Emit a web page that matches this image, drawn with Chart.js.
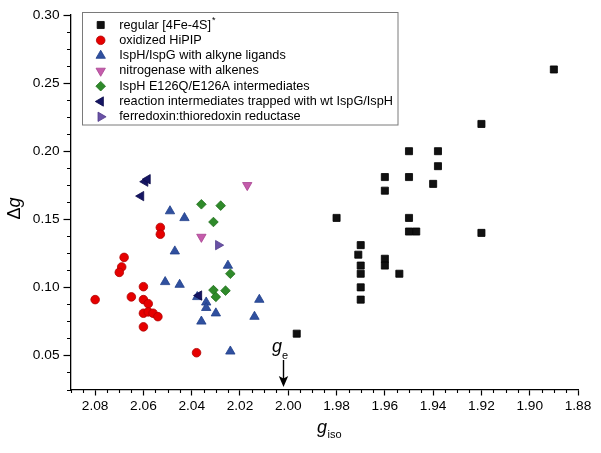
<!DOCTYPE html>
<html><head><meta charset="utf-8">
<script src="https://cdn.jsdelivr.net/npm/chart.js@4/dist/chart.umd.min.js"></script>
<style>html,body{margin:0;padding:0;background:#fff;overflow:hidden;}</style>
</head><body>
<canvas id="c" width="601" height="453" style="display:block"></canvas>
<script>
// ---- tick labels ----
const X_TICKS = [2.08, 2.06, 2.04, 2.02, 2.00, 1.98, 1.96, 1.94, 1.92, 1.90, 1.88];
const Y_TICKS = [0.05, 0.10, 0.15, 0.20, 0.25, 0.30];

// ---- series names ----
const SERIES_NAMES = [
  'regular [4Fe-4S]',
  'oxidized HiPIP',
  'IspH/IspG with alkyne ligands',
  'nitrogenase with alkenes',
  'IspH E126Q/E126A intermediates',
  'reaction intermediates trapped with wt IspG/IspH',
  'ferredoxin:thioredoxin reductase'
];

// ---- series values (g_iso, Δg) ----
const REGULAR_G  = [1.89, 1.92, 1.92, 1.95, 1.938, 1.938, 1.94, 1.96, 1.95, 1.96, 1.98, 1.95, 1.95, 1.947, 1.97, 1.971, 1.97, 1.97, 1.96, 1.96, 1.954, 1.97, 1.97, 1.9965];
const REGULAR_DG = [0.26, 0.22, 0.14, 0.20, 0.20, 0.189, 0.176, 0.181, 0.181, 0.171, 0.151, 0.151, 0.141, 0.141, 0.131, 0.124, 0.116, 0.110, 0.121, 0.116, 0.110, 0.100, 0.091, 0.066];

const HIPIP_G  = [2.053, 2.053, 2.068, 2.069, 2.070, 2.060, 2.080, 2.065, 2.060, 2.058, 2.060, 2.058, 2.056, 2.054, 2.060, 2.038];
const HIPIP_DG = [0.144, 0.139, 0.122, 0.115, 0.111, 0.1005, 0.091, 0.093, 0.091, 0.088, 0.081, 0.082, 0.081, 0.0785, 0.071, 0.052];

const ALKYNE_G  = [2.049, 2.043, 2.047, 2.025, 2.051, 2.045, 2.0377, 2.034, 2.034, 2.030, 2.036, 2.012, 2.014, 2.024];
const ALKYNE_DG = [0.156, 0.151, 0.1265, 0.116, 0.104, 0.102, 0.093, 0.089, 0.085, 0.081, 0.075, 0.091, 0.0785, 0.053];

const NITRO_G  = [2.017, 2.036];
const NITRO_DG = [0.175, 0.137];

const E126_G  = [2.036, 2.028, 2.031, 2.024, 2.031, 2.026, 2.030];
const E126_DG = [0.161, 0.160, 0.148, 0.110, 0.098, 0.0976, 0.093];

const WT_G  = [2.0593, 2.0583, 2.061, 2.037];
const WT_DG = [0.1776, 0.1794, 0.167, 0.094];

const FTR_G  = [2.029];
const FTR_DG = [0.131];

const G_E = 2.0023;

// ---- styles ----
const FONT = "'Liberation Sans', Arial, sans-serif";
const STYLES = [
  {pointStyle: 'rect',     rotation: 0,   radius: 5.0, fill: '#111111', border: '#000000'},
  {pointStyle: 'circle',   rotation: 0,   radius: 4.3, fill: '#e60000', border: '#b00000'},
  {pointStyle: 'triangle', rotation: 0,   radius: 5.4, fill: '#30509f', border: '#203f8a'},
  {pointStyle: 'triangle', rotation: 180, radius: 5.4, fill: '#c45cab', border: '#a84390'},
  {pointStyle: 'rectRot',  rotation: 0,   radius: 4.8, fill: '#2f8a2a', border: '#1f6f1c'},
  {pointStyle: 'triangle', rotation: 270, radius: 5.4, fill: '#151563', border: '#0b0b4a'},
  {pointStyle: 'triangle', rotation: 90,  radius: 5.4, fill: '#6a52a6', border: '#523c8c'}
];
const SERIES_G  = [REGULAR_G, HIPIP_G, ALKYNE_G, NITRO_G, E126_G, WT_G, FTR_G];
const SERIES_DG = [REGULAR_DG, HIPIP_DG, ALKYNE_DG, NITRO_DG, E126_DG, WT_DG, FTR_DG];

const datasets = SERIES_NAMES.map((name, i) => ({
  label: name,
  data: SERIES_G[i].map((g, k) => ({x: g, y: SERIES_DG[i][k]})),
  pointStyle: STYLES[i].pointStyle,
  rotation: STYLES[i].rotation,
  pointRadius: STYLES[i].radius,
  backgroundColor: STYLES[i].fill,
  borderColor: STYLES[i].border,
  borderWidth: 0.8,
  showLine: false,
  order: SERIES_NAMES.length - i
}));

function marker(ctx, st, x, y) {
  ctx.save();
  ctx.fillStyle = st.fill;
  ctx.strokeStyle = st.border;
  ctx.lineWidth = 0.8;
  Chart.helpers.drawPoint(ctx, {pointStyle: st.pointStyle, rotation: st.rotation, radius: st.radius, borderWidth: 0.8}, x, y);
  ctx.restore();
}

const decor = {
  id: 'decor',
  afterDraw(chart) {
    const ctx = chart.ctx;
    const xs = chart.scales.x, ys = chart.scales.y;
    ctx.save();
    // minor ticks
    ctx.strokeStyle = '#000';
    ctx.lineWidth = 1.1;
    ctx.beginPath();
    for (let i = 376; i <= 418; i++) {
      if (i % 4 === 0) continue;
      const px = Math.round(xs.getPixelForValue(i / 200)) + 0.5;
      ctx.moveTo(px, ys.bottom);
      ctx.lineTo(px, ys.bottom + 3.5);
    }
    for (let k = 0; k <= 22; k++) {
      if ((k - 2) % 4 === 0) continue;
      const py = Math.round(ys.getPixelForValue(0.025 + k * 0.0125)) + 0.5;
      ctx.moveTo(xs.left - 4, py);
      ctx.lineTo(xs.left, py);
    }
    ctx.stroke();

    // legend
    ctx.strokeStyle = '#7a7a7a';
    ctx.lineWidth = 1;
    ctx.strokeRect(82.5, 12.5, 315.5, 112.5);
    const rows = [25, 40.3, 55.6, 70.9, 86.2, 101.5, 116.8];
    ctx.font = '12.7px ' + FONT;
    ctx.textBaseline = 'middle';
    ctx.textAlign = 'left';
    ctx.fillStyle = '#000';
    SERIES_NAMES.forEach((name, i) => {
      marker(ctx, STYLES[i], 100.7, rows[i]);
      ctx.fillStyle = '#000';
      ctx.font = '12.7px ' + FONT;
      ctx.fillText(name, 119.3, rows[i]);
      if (i === 0) {
        const w = ctx.measureText(name).width;
        ctx.font = '9px ' + FONT;
        ctx.fillText('*', 119.3 + w + 1, rows[i] - 4);
      }
    });

    // y title  Δg
    ctx.save();
    ctx.translate(20, 208.5);
    ctx.rotate(-Math.PI / 2);
    ctx.textBaseline = 'alphabetic';
    ctx.font = '18px ' + FONT;
    const wD = ctx.measureText('Δ').width;
    ctx.font = 'italic 18px ' + FONT;
    const wg = ctx.measureText('g').width;
    let sx = -(wD + wg) / 2;
    ctx.font = '18px ' + FONT;
    ctx.fillText('Δ', sx, 0);
    ctx.font = 'italic 18px ' + FONT;
    ctx.fillText('g', sx + wD, 0);
    ctx.restore();

    // x title g_iso
    ctx.textBaseline = 'alphabetic';
    ctx.font = 'italic 18px ' + FONT;
    const wg2 = ctx.measureText('g').width;
    ctx.fillText('g', 317, 432.5);
    ctx.font = '11px ' + FONT;
    ctx.fillText('iso', 317 + wg2 + 0.5, 437.5);

    // g_e arrow
    const ax = Math.round(xs.getPixelForValue(G_E)) + 0.5;
    ctx.font = 'italic 18px ' + FONT;
    ctx.fillText('g', ax - 11.5, 352);
    ctx.font = '11px ' + FONT;
    ctx.fillText('e', ax - 1.5, 358.5);
    ctx.strokeStyle = '#000';
    ctx.lineWidth = 1.4;
    ctx.beginPath();
    ctx.moveTo(ax, 360);
    ctx.lineTo(ax, 380);
    ctx.stroke();
    ctx.fillStyle = '#000';
    ctx.beginPath();
    ctx.moveTo(ax, 387);
    ctx.lineTo(ax - 4.7, 376);
    ctx.lineTo(ax, 378.5);
    ctx.lineTo(ax + 4.7, 376);
    ctx.closePath();
    ctx.fill();
    ctx.restore();
  }
};

new Chart(document.getElementById('c'), {
  type: 'scatter',
  data: {datasets},
  options: {
    responsive: false,
    animation: false,
    devicePixelRatio: 1,
    layout: {padding: {top: 15, right: 23, left: 0, bottom: 0}},
    plugins: {legend: {display: false}, tooltip: {enabled: false}},
    scales: {
      x: {
        type: 'linear', reverse: true, min: 1.88, max: 2.09,
        afterBuildTicks: s => { s.ticks = X_TICKS.map(v => ({value: v})); },
        afterFit: s => { s.height = 63.5; },
        grid: {display: true, drawOnChartArea: false, drawTicks: true, tickLength: 6, tickColor: '#000', tickWidth: 1.2},
        border: {display: true, color: '#000', width: 1.3},
        ticks: {color: '#000', font: {family: FONT, size: 13.7}, padding: 3, maxRotation: 0, autoSkip: false,
                callback: v => Number(v).toFixed(2)}
      },
      y: {
        type: 'linear', min: 0.025, max: 0.30,
        afterBuildTicks: s => { s.ticks = Y_TICKS.map(v => ({value: v})); },
        afterFit: s => { s.width = 71; },
        grid: {display: true, drawOnChartArea: false, drawTicks: true, tickLength: 7.5, tickColor: '#000', tickWidth: 1.2},
        border: {display: true, color: '#000', width: 1.3},
        ticks: {color: '#000', font: {family: FONT, size: 13.7}, padding: 4, autoSkip: false,
                callback: v => Number(v).toFixed(2)}
      }
    }
  },
  plugins: [decor]
});
</script>
</body></html>
